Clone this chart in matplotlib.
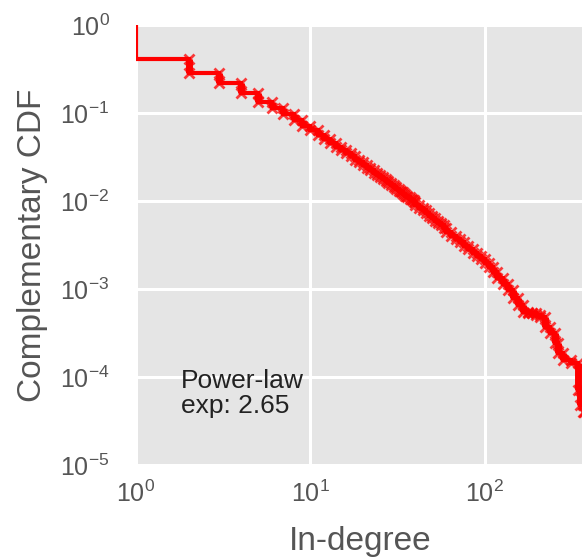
import matplotlib
matplotlib.use('Agg')
import matplotlib.pyplot as plt
import numpy as np
from matplotlib.ticker import LogLocator

# in-degree values and complementary CDF P(X >= k)
in_degree = [1, 2, 3, 4, 5, 6, 7, 8, 9, 10,
             11, 12, 13, 14, 15, 16, 17, 18, 19, 20,
             21, 22, 23, 24, 25, 26, 27, 28, 29, 30,
             31, 32, 33, 34, 35, 36, 37, 38, 39, 40,
             42, 44, 46, 48, 50, 52, 54, 56, 58, 60,
             64, 68, 72, 76, 80, 85, 90, 95, 100, 105,
             111, 118, 127, 136, 145, 155, 165, 177, 186, 196,
             208, 221, 236, 253, 263, 281, 312, 342, 352, 366,
             370]
ccdf = [1.0, 0.41, 0.285, 0.217, 0.167, 0.134, 0.113, 0.098, 0.0834, 0.0721,
        0.0634, 0.0562, 0.0504, 0.0455, 0.0414, 0.0379, 0.0350, 0.0321, 0.0296, 0.0275,
        0.0256, 0.0239, 0.0224, 0.0210, 0.0198, 0.0187, 0.0177, 0.0168, 0.0160, 0.0151,
        0.0144, 0.0137, 0.0131, 0.0126, 0.0120, 0.0115, 0.0110, 0.0106, 0.0102, 0.0098,
        0.00908, 0.00841, 0.00780, 0.00726, 0.00678, 0.00634, 0.00596, 0.00560, 0.00528, 0.00499,
        0.00445, 0.00403, 0.00368, 0.00338, 0.00311, 0.00282, 0.00258, 0.00237, 0.00218, 0.00198,
        0.00178, 0.00155, 0.00133, 0.00114, 0.00098, 0.00080, 0.00066, 0.00055, 0.00054, 0.00053,
        0.00051, 0.00048, 0.00037, 0.00032, 0.000244, 0.000188, 0.000156, 0.000145, 0.000071, 0.000048,
        0.000040]
fit_label = 'Power-law\nexp: 2.65'

plt.rcParams['font.family'] = ['Liberation Sans', 'DejaVu Sans']
plt.rcParams['mathtext.default'] = 'regular'
plt.rcParams['axes.unicode_minus'] = False

fig = plt.figure(figsize=(5.82, 5.60), dpi=100)
ax = fig.add_axes([136 / 582, 95 / 560, 448 / 582, 440 / 560])
ax.set_facecolor('#E5E5E5')
for s in ax.spines.values():
    s.set_visible(False)

deg = np.array(in_degree)
cc = np.array(ccdf)
ax.step(deg, cc, where='pre', color='red', lw=3, solid_joinstyle='miter', zorder=3)
ax.vlines(deg[1:-1], cc[2:], cc[1:-1], color='red', lw=5, zorder=3)
ax.plot(deg[1:], cc[1:], ls='none', marker='x', ms=7, mew=2, color='red', alpha=0.75, zorder=3)
ax.plot(deg[1:-1], cc[2:], ls='none', marker='x', ms=7, mew=2, color='red', alpha=0.75, zorder=3)

ax.set_xscale('log')
ax.set_yscale('log')
ax.set_xlim(1, 370)
ax.set_ylim(1e-5, 1)
ax.yaxis.set_major_locator(LogLocator(base=10, numticks=10))
ax.xaxis.set_major_locator(LogLocator(base=10, numticks=10))
ax.grid(True, which='major', color='white', lw=2.2)
ax.set_axisbelow(True)
ax.tick_params(which='both', length=0, labelsize=18, colors='#555555')
ax.tick_params(axis='x', pad=11)
ax.tick_params(axis='y', pad=19)

ax.set_xlabel('In-degree', fontsize=24, color='#555555', labelpad=14)
ax.set_ylabel('Complementary CDF', fontsize=24, color='#555555', labelpad=9)

ax.text(1.8, 3.4e-5, fit_label, fontsize=19,
        color='#222222', ha='left', va='bottom', linespacing=1.05)

fig.savefig('out.png', dpi=100)
